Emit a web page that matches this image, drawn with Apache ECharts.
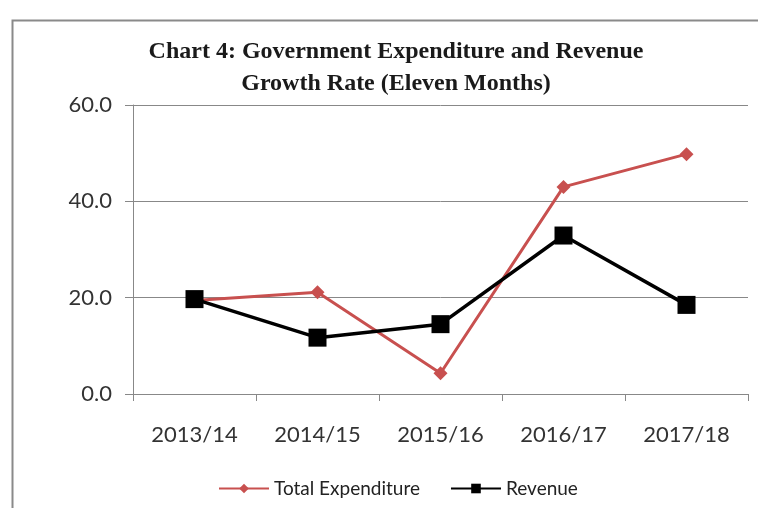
<!DOCTYPE html>
<html><head><meta charset="utf-8">
<script src="https://cdn.jsdelivr.net/npm/echarts@6/dist/echarts.min.js"></script>
<style>html,body{margin:0;padding:0;background:#fff}#c{width:758px;height:508px}</style>
</head><body><div id="c"></div>
<script>
const categories = ['2013/14','2014/15','2015/16','2016/17','2017/18'];
const expenditure = [19.4, 21.1, 4.3, 43.0, 49.8];
const revenue = [19.7, 11.7, 14.5, 32.9, 18.5];
const yTicks = [0, 20, 40, 60];

const chart = echarts.init(document.getElementById('c'), null, {renderer:'canvas'});
chart.setOption({
  animation:false,
  backgroundColor:'#fff',
  graphic:[
    {type:'polyline', shape:{points:[[12.5,520],[12.5,20.5],[770,20.5]]}, style:{stroke:'#8a8a8a', lineWidth:2, fill:null}}
  ],
  title:{
    text:'Chart 4: Government Expenditure and Revenue\nGrowth Rate (Eleven Months)',
    left:391, top:31, textAlign:'center',
    textStyle:{fontFamily:'Liberation Serif', fontWeight:'bold', fontSize:24, lineHeight:32, color:'#1a1a1a'}
  },
  legend:{
    top:474, left:213, itemGap:30, itemWidth:50, itemHeight:12,
    textStyle:{fontFamily:'Lato', fontSize:19, color:'#222'},
    data:['Total Expenditure','Revenue']
  },
  grid:{left:133, right:10, top:105, bottom:114},
  xAxis:{
    type:'category', data:categories, boundaryGap:true,
    axisLine:{lineStyle:{color:'#888', width:1}},
    axisTick:{show:true, length:7, lineStyle:{color:'#888'}},
    axisLabel:{fontFamily:'Lato', fontSize:22, color:'#333', margin:30}
  },
  yAxis:{
    type:'value', min:yTicks[0], max:yTicks[yTicks.length-1], interval:20,
    axisLine:{show:true, lineStyle:{color:'#888', width:1}},
    axisTick:{show:true, length:8, lineStyle:{color:'#888'}},
    splitLine:{lineStyle:{color:'#888', width:1}},
    axisLabel:{fontFamily:'Lato', fontSize:22, color:'#333', margin:21, formatter:v=>v.toFixed(1)}
  },
  series:[
    {name:'Total Expenditure', type:'line', data:expenditure, symbol:'diamond', symbolSize:14,
     lineStyle:{color:'#c8504f', width:3}, itemStyle:{color:'#c8504f'}, z:2},
    {name:'Revenue', type:'line', data:revenue, symbol:'rect', symbolSize:18,
     lineStyle:{color:'#000', width:3.5}, itemStyle:{color:'#000'}, z:3}
  ]
});
</script></body></html>
